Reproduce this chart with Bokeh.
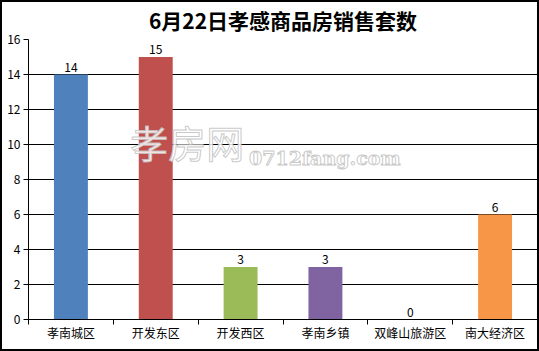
from bokeh.plotting import figure
from bokeh.models import ColumnDataSource, Range1d, FixedTicker, Label
from bokeh.embed import file_html
from bokeh.resources import INLINE

# Daily sales of commercial housing units by district
districts = ["孝南城区", "开发东区", "开发西区", "孝南乡镇", "双峰山旅游区", "南大经济区"]
units = [14, 15, 3, 3, 0, 6]
bar_colors = ["#4F81BD", "#C0504D", "#9BBB59", "#8064A2", "#F79646", "#F79646"]
y_ticks = [0, 2, 4, 6, 8, 10, 12, 14, 16]
title_text = "6月22日孝感商品房销售套数"

FONT = "Noto Sans CJK SC"

centers = [i + 0.5 for i in range(len(districts))]
src = ColumnDataSource(dict(
    x=centers,
    top=units,
    color=bar_colors[:len(districts)],
    label=[str(v) for v in units],
))

p = figure(
    width=539, height=351,
    x_range=Range1d(0, len(districts)), y_range=Range1d(0, 16),
    output_backend="svg", toolbar_location=None,
    min_border_left=26, min_border_right=4, min_border_top=37, min_border_bottom=34,
    title=title_text,
)
p.styles = {"border": "2px solid black", "box-sizing": "border-box"}
p.outline_line_color = None
p.background_fill_color = "white"
p.border_fill_color = "white"

p.title.align = "center"
p.title.vertical_align = "top"
p.title.text_font = FONT
p.title.text_font_size = "21px"
p.title.text_font_style = "bold"
p.title.text_color = "black"
p.title.standoff = 0
p.title.padding = {"left": 0, "right": 0, "top": 0, "bottom": 3}

# bars
p.vbar(x="x", top="top", width=0.4, color="color", source=src, line_color=None)
p.text(x="x", y="top", text="label", source=src, text_align="center",
       text_baseline="bottom", y_offset=-3, text_font_size="12px",
       text_color="black", text_font={"value": FONT})

# y axis and grid
p.yaxis.ticker = FixedTicker(ticks=y_ticks)
p.yaxis.minor_tick_line_color = None
p.yaxis.major_tick_in = 0
p.yaxis.major_tick_out = 5
p.yaxis.axis_line_color = "black"
p.yaxis.major_tick_line_color = "black"
p.yaxis.major_label_text_font = FONT
p.yaxis.major_label_text_font_size = "12px"
p.yaxis.major_label_text_color = "black"
p.yaxis.major_label_standoff = 3
p.ygrid.grid_line_color = "black"
p.ygrid.grid_line_alpha = 1.0
p.xgrid.grid_line_color = None

# x axis: labels centred, ticks at category boundaries
p.xaxis.ticker = FixedTicker(ticks=centers, minor_ticks=list(range(len(districts) + 1)))
p.xaxis.major_label_overrides = {c: d for c, d in zip(centers, districts)}
p.xaxis.major_tick_in = 0
p.xaxis.major_tick_out = 0
p.xaxis.minor_tick_in = 0
p.xaxis.minor_tick_out = 5
p.xaxis.minor_tick_line_color = "black"
p.xaxis.axis_line_color = "black"
p.xaxis.major_label_text_font = FONT
p.xaxis.major_label_text_font_size = "12px"
p.xaxis.major_label_text_color = "black"
p.xaxis.major_label_standoff = -1

# site watermark
p.add_layout(Label(x=1.2, y=8.6, text="孝房网", text_font=FONT, text_font_size="38px",
                   text_color="white", text_alpha=0.85, text_outline_color="#c0c0c0",
                   text_baseline="bottom"))
p.add_layout(Label(x=2.6, y=8.6, text="0712fang.com", text_font="DejaVu Serif",
                   text_font_size="19px", text_font_style="bold", text_color="white",
                   text_alpha=0.85, text_outline_color="#c0c0c0", text_baseline="bottom"))

open("out.html", "w").write(file_html(p, INLINE))
